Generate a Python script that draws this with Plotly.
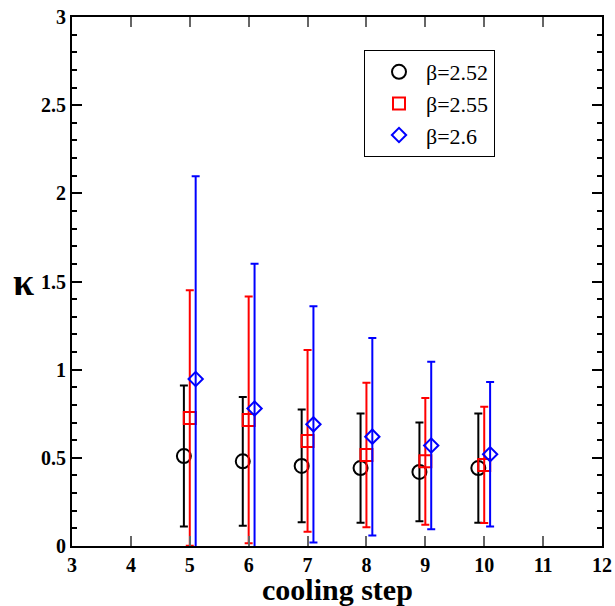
import plotly.graph_objects as go

steps = [5, 6, 7, 8, 9, 10]

k_252 = [0.51, 0.48, 0.454, 0.442, 0.42, 0.442]
e_252 = [0.40, 0.365, 0.32, 0.31, 0.28, 0.31]

k_255 = [0.726, 0.715, 0.596, 0.516, 0.48, 0.46]
e_255 = [0.725, 0.70, 0.515, 0.41, 0.36, 0.33]

k_260 = [0.947, 0.78, 0.69, 0.62, 0.57, 0.52]
e_260 = [1.15, 0.82, 0.67, 0.56, 0.475, 0.41]

offsets = [-0.1, 0.0, 0.1]
labels = ["β=2.52", "β=2.55", "β=2.6"]
colors = ["black", "red", "blue"]
symbols = ["circle-open", "square-open", "diamond-open"]
sizes = [14, 12, 11]

fig = go.Figure()
for vals, errs, off, lab, col, sym, sz in zip(
    [k_252, k_255, k_260], [e_252, e_255, e_260], offsets, labels, colors, symbols, sizes
):
    fig.add_trace(go.Scatter(
        x=[s + off for s in steps], y=vals, mode="markers", name=lab,
        marker=dict(symbol=sym, size=sz, color=col, line=dict(width=2, color=col)),
        error_y=dict(type="data", array=errs, visible=True, color=col, thickness=2, width=4),
    ))

font_serif = "Liberation Serif"

W, H = 615, 606
L, R, T, B = 72, 602, 17, 546

def px_x(p):
    return (p - L) / (R - L)

def px_y(p):
    return (B - p) / (B - T)

fig.update_layout(
    width=W, height=H,
    margin=dict(l=L, r=W - R, t=T, b=H - B),
    plot_bgcolor="white", paper_bgcolor="white",
    font=dict(family=font_serif, color="black"),
    showlegend=True,
    legend=dict(
        x=px_x(364), y=px_y(50), xanchor="left", yanchor="top",
        bordercolor="black", borderwidth=1, bgcolor="white",
        font=dict(family=font_serif, size=22, color="black"),
        itemwidth=44, indentation=7,
    ),
    xaxis=dict(
        range=[3, 12], dtick=1, tick0=3, automargin=False,
        ticks="inside", ticklen=10, tickwidth=2, tickcolor="#666",
        showline=True, linecolor="black", linewidth=2, mirror="allticks",
        showgrid=False, zeroline=False,
        tickfont=dict(family=font_serif, size=20, color="black", weight="bold"),
    ),
    yaxis=dict(
        range=[0, 3], dtick=0.5, tick0=0, automargin=False,
        ticks="inside", ticklen=10, tickwidth=2, tickcolor="black",
        minor=dict(dtick=0.1, ticks="inside", ticklen=5, tickwidth=1.5, tickcolor="black"),
        showline=True, linecolor="black", linewidth=2, mirror="allticks",
        showgrid=False, zeroline=False,
        tickfont=dict(family=font_serif, size=20, color="black", weight="bold"),
    ),
    annotations=[
        dict(
            text="<b>κ</b>", x=px_x(23), y=px_y(282),
            xref="paper", yref="paper", showarrow=False, xanchor="center", yanchor="middle",
            font=dict(family=font_serif, size=38, color="black"),
        ),
        dict(
            text="<b>cooling step</b>", x=0.5, y=px_y(607),
            xref="paper", yref="paper", showarrow=False, xanchor="center", yanchor="bottom",
            borderpad=0, font=dict(family=font_serif, size=30, color="black"),
        ),
    ],
)

fig.write_html(
    "out.html",
    config={"displayModeBar": False},
    post_script="document.body.style.margin='0';document.body.style.overflow='hidden';",
)
